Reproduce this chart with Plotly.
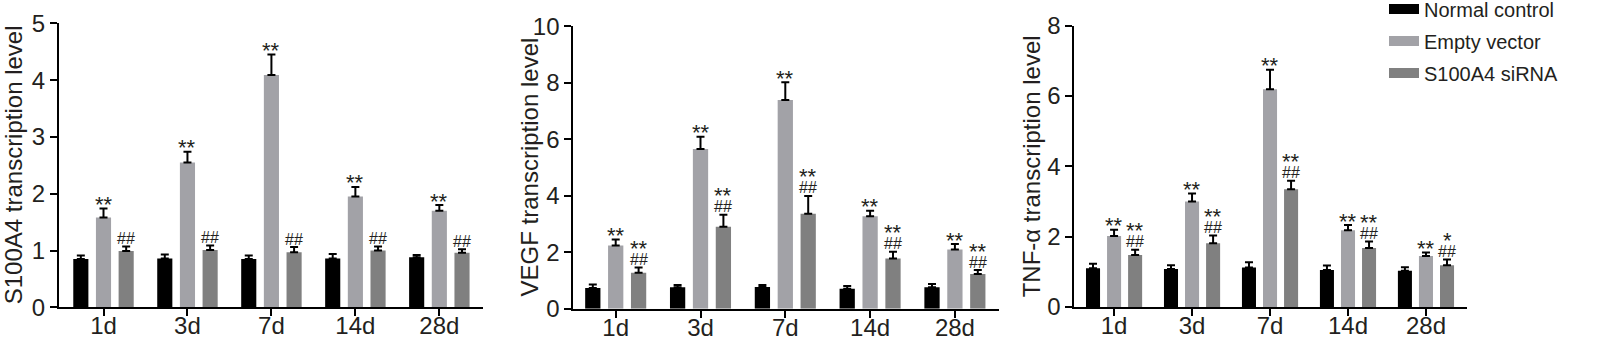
import plotly.graph_objects as go

# Time points and groups
days = ["1d", "3d", "7d", "14d", "28d"]
groups = ["Normal control", "Empty vector", "S100A4 siRNA"]
group_colors = ["#000000", "#a2a2a7", "#808080"]

# S100A4 transcription level (mean, SEM)
s100a4_mean = {
    "Normal control": [0.85, 0.86, 0.85, 0.86, 0.88],
    "Empty vector": [1.58, 2.55, 4.09, 1.95, 1.70],
    "S100A4 siRNA": [0.99, 1.01, 0.97, 1.00, 0.96],
}
s100a4_sem = {
    "Normal control": [0.06, 0.07, 0.06, 0.08, 0.04],
    "Empty vector": [0.16, 0.19, 0.36, 0.17, 0.10],
    "S100A4 siRNA": [0.08, 0.08, 0.09, 0.07, 0.06],
}
s100a4_sig = {
    "Empty vector": ["**", "**", "**", "**", "**"],
    "S100A4 siRNA": ["##", "##", "##", "##", "##"],
}

# VEGF transcription level (mean, SEM)
vegf_mean = {
    "Normal control": [0.73, 0.76, 0.77, 0.71, 0.76],
    "Empty vector": [2.24, 5.65, 7.39, 3.27, 2.10],
    "S100A4 siRNA": [1.27, 2.90, 3.36, 1.78, 1.23],
}
vegf_sem = {
    "Normal control": [0.13, 0.08, 0.07, 0.09, 0.11],
    "Empty vector": [0.21, 0.44, 0.63, 0.20, 0.19],
    "S100A4 siRNA": [0.19, 0.43, 0.63, 0.24, 0.14],
}
vegf_sig = {
    "Empty vector": ["**", "**", "**", "**", "**"],
    "S100A4 siRNA": ["**|##", "**|##", "**|##", "**|##", "**|##"],
}

# TNF-α transcription level (mean, SEM)
tnf_mean = {
    "Normal control": [1.10, 1.08, 1.12, 1.05, 1.03],
    "Empty vector": [2.02, 3.00, 6.19, 2.18, 1.45],
    "S100A4 siRNA": [1.48, 1.81, 3.35, 1.68, 1.19],
}
tnf_sem = {
    "Normal control": [0.13, 0.11, 0.15, 0.13, 0.10],
    "Empty vector": [0.18, 0.23, 0.56, 0.15, 0.10],
    "S100A4 siRNA": [0.15, 0.22, 0.24, 0.18, 0.16],
}
tnf_sig = {
    "Empty vector": ["**", "**", "**", "**", "**"],
    "S100A4 siRNA": ["**|##", "**|##", "**|##", "**|##", "*|##"],
}

panels = [
    dict(mean=s100a4_mean, sem=s100a4_sem, sig=s100a4_sig,
         title="S100A4 transcription level", yrange=[0, 5], dtick=1,
         xdom=[59, 483], ydom=[307.3, 23.3], xrange=[-0.53, 4.52], tx=13),
    dict(mean=vegf_mean, sem=vegf_sem, sig=vegf_sig,
         title="VEGF transcription level", yrange=[0, 10], dtick=2,
         xdom=[573.3, 999], ydom=[308.7, 26.2], xrange=[-0.5, 4.52], tx=529),
    dict(mean=tnf_mean, sem=tnf_sem, sig=tnf_sig,
         title="TNF-α transcription level", yrange=[0, 8], dtick=2,
         xdom=[1074.3, 1467.3], ydom=[307.0, 25.7], xrange=[-0.51, 4.53], tx=1031),
]

W, H = 1605, 339
FONT = "Liberation Sans, Arial, Helvetica, sans-serif"
INK = "#231f20"
BARGAP = 0.19
SLOT = (1 - BARGAP) / 3

fig = go.Figure()
annotations = []

for p_i, p in enumerate(panels):
    ax = "" if p_i == 0 else str(p_i + 1)
    for g_i, g in enumerate(groups):
        means = p["mean"][g]
        sems = p["sem"][g]
        fig.add_trace(go.Bar(
            x=days, y=means, name=g,
            marker=dict(color=group_colors[g_i], line=dict(width=0)),
            error_y=dict(type="data", symmetric=False, array=sems,
                         arrayminus=[0] * len(sems),
                         color="#000000", thickness=2, width=4),
            xaxis="x" + ax, yaxis="y" + ax,
            legendgroup=g, showlegend=False,
        ))
        if g in p["sig"]:
            for d_i, label in enumerate(p["sig"][g]):
                top = means[d_i] + sems[d_i]
                xpos = d_i + (g_i - 1) * SLOT
                lines = label.split("|")[::-1]  # nearest the bar first
                for l_i, line in enumerate(lines):
                    is_hash = line.startswith("#")
                    size = 16 if is_hash else 22
                    shift = 8 if is_hash else (4 if l_i == 0 else 19)
                    annotations.append(dict(
                        x=xpos, y=top, xref="x" + ax, yref="y" + ax,
                        text=line, showarrow=False, yanchor="middle",
                        yshift=shift, font=dict(size=size, color=INK, family=FONT),
                    ))
    # vertical axis title
    annotations.append(dict(
        x=p["tx"] / W, y=1 - (p["ydom"][0] + p["ydom"][1]) / 2 / H,
        xref="paper", yref="paper", text=p["title"], textangle=-90,
        showarrow=False, xanchor="center", yanchor="middle",
        font=dict(size=24, color=INK, family=FONT),
    ))

    common = dict(
        showgrid=False, zeroline=False, showline=True, automargin=False,
        linecolor="#000000", linewidth=2, ticks="outside", ticklen=7,
        tickwidth=2, tickcolor="#000000",
        tickfont=dict(size=24, color=INK, family=FONT),
    )
    fig.layout["xaxis" + ax] = dict(
        domain=[p["xdom"][0] / W, p["xdom"][1] / W], range=p["xrange"],
        anchor="y" + ax, ticklabelstandoff=-11, **common,
    )
    fig.layout["yaxis" + ax] = dict(
        domain=[1 - p["ydom"][0] / H, 1 - p["ydom"][1] / H], range=p["yrange"],
        dtick=p["dtick"], anchor="x" + ax, **common,
    )

# Legend keys: wide solid swatches for each group
for g_i, g in enumerate(groups):
    fig.add_trace(go.Scatter(
        x=[None], y=[None], mode="lines", name=g, legendgroup=g,
        line=dict(color=group_colors[g_i], width=15),
        xaxis="x3", yaxis="y3", showlegend=True,
    ))

fig.update_layout(
    width=W, height=H, margin=dict(l=0, r=0, t=0, b=0, autoexpand=False),
    paper_bgcolor="white", plot_bgcolor="white",
    barmode="group", bargap=BARGAP, bargroupgap=0.333,
    annotations=annotations,
    legend=dict(x=1384 / W, y=1.031, xanchor="left", yanchor="top",
                font=dict(size=20, color=INK, family=FONT),
                bgcolor="rgba(0,0,0,0)", tracegroupgap=3),
    font=dict(family=FONT, color=INK),
)

fig.write_html("out.html")
